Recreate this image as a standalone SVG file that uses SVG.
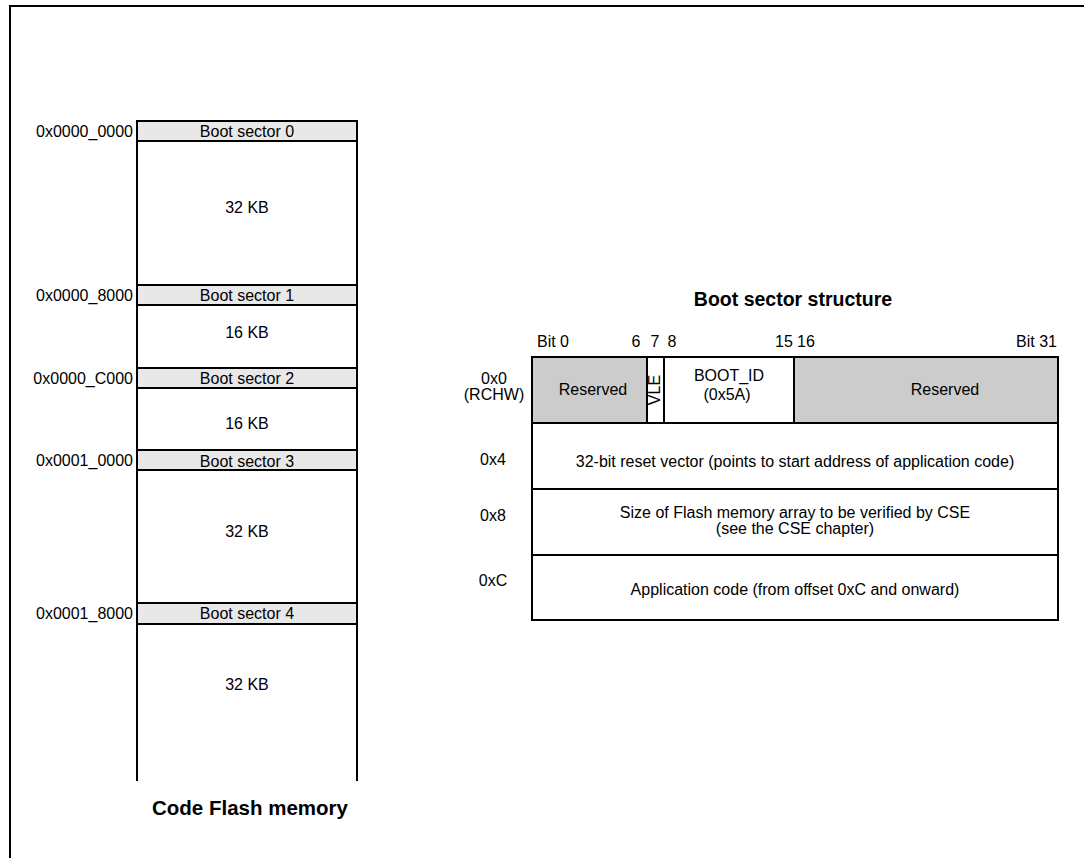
<svg xmlns="http://www.w3.org/2000/svg" width="1084" height="858" viewBox="0 0 1084 858">
<style>
text{font-family:"Liberation Sans",Arial,sans-serif;font-size:16px;fill:#000}
.m{text-anchor:middle}
.e{text-anchor:end}
.b{font-weight:bold;font-size:19.5px}
.hdr{fill:#e8e8e8;stroke:#000;stroke-width:2}
.res{fill:#cccccc;stroke:#000;stroke-width:2}
.box{fill:#fff;stroke:#000;stroke-width:2}
.ln{stroke:#000;stroke-width:2;fill:none}
</style>
<rect width="1084" height="858" fill="#fff"/>
<g id="frame"><path class="ln" d="M10,858 V6 H1084" stroke-width="2.5"/></g>

<g id="flash">
  <path class="ln" d="M137,121 V781 M357,121 V781"/>
  <g id="bs0"><rect class="hdr" x="137" y="121" width="220" height="20"/><text class="m" x="247" y="137">Boot sector 0</text><text class="e" x="133" y="137">0x0000_0000</text><text class="m" x="247" y="213">32 KB</text></g>
  <g id="bs1"><rect class="hdr" x="137" y="285" width="220" height="20"/><text class="m" x="247" y="301">Boot sector 1</text><text class="e" x="133" y="301">0x0000_8000</text><text class="m" x="247" y="338">16 KB</text></g>
  <g id="bs2"><rect class="hdr" x="137" y="368" width="220" height="20"/><text class="m" x="247" y="384">Boot sector 2</text><text class="e" x="133" y="384">0x0000_C000</text><text class="m" x="247" y="429">16 KB</text></g>
  <g id="bs3"><rect class="hdr" x="137" y="450" width="220" height="20"/><text class="m" x="247" y="467">Boot sector 3</text><text class="e" x="133" y="466">0x0001_0000</text><text class="m" x="247" y="537">32 KB</text></g>
  <g id="bs4"><rect class="hdr" x="137" y="603" width="220" height="21"/><text class="m" x="247" y="619">Boot sector 4</text><text class="e" x="133" y="619">0x0001_8000</text><text class="m" x="247" y="690">32 KB</text></g>
  <text class="m b" x="250" y="815" style="font-size:20.5px">Code Flash memory</text>
</g>

<g id="structure">
  <text class="m b" x="793" y="306">Boot sector structure</text>
  <text x="537" y="347">Bit 0</text>
  <text class="m" x="636" y="347">6</text>
  <text class="m" x="655" y="347">7</text>
  <text class="m" x="672" y="347">8</text>
  <text class="m" x="784" y="347">15</text>
  <text class="m" x="806" y="347">16</text>
  <text class="e" x="1057" y="347">Bit 31</text>

  <g id="row0">
    <rect class="res" x="532" y="357" width="115" height="66"/>
    <rect class="box" x="647" y="357" width="17" height="66"/>
    <rect class="box" x="664" y="357" width="130" height="66"/>
    <rect class="res" x="794" y="357" width="264" height="66"/>
    <text class="m" x="593" y="395">Reserved</text>
    <text class="m" transform="translate(660,390) rotate(-90)">VLE</text>
    <text class="m" x="729" y="381">BOOT_ID</text>
    <text class="m" x="727" y="400">(0x5A)</text>
    <text class="m" x="945" y="395">Reserved</text>
    <text class="m" x="494" y="384">0x0</text>
    <text class="m" x="494" y="400">(RCHW)</text>
  </g>
  <g id="row1">
    <rect class="box" x="532" y="423" width="526" height="66"/>
    <text class="m" x="795" y="467">32-bit reset vector (points to start address of application code)</text>
    <text class="m" x="493" y="465">0x4</text>
  </g>
  <g id="row2">
    <rect class="box" x="532" y="489" width="526" height="66"/>
    <text class="m" x="795" y="518">Size of Flash memory array to be verified by CSE</text>
    <text class="m" x="795" y="534">(see the CSE chapter)</text>
    <text class="m" x="493" y="521">0x8</text>
  </g>
  <g id="row3">
    <rect class="box" x="532" y="555" width="526" height="65"/>
    <text class="m" x="795" y="595">Application code (from offset 0xC and onward)</text>
    <text class="m" x="493" y="586">0xC</text>
  </g>
</g>
</svg>
